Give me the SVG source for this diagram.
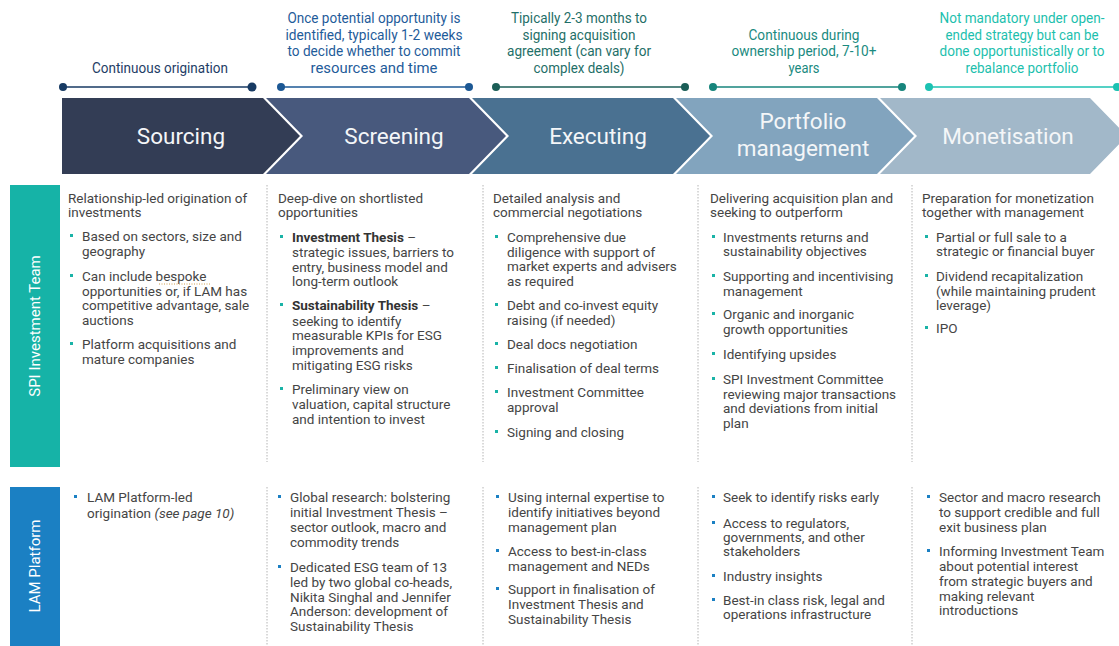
<svg xmlns="http://www.w3.org/2000/svg" width="1119" height="646" viewBox="0 0 1119 646">
<defs>
<style>
.lbl{font-family:Roboto,"Liberation Sans",sans-serif;font-size:14.5px;text-anchor:middle}
.chev{font-family:Roboto,"Liberation Sans",sans-serif;font-size:22.5px;fill:#f4f6f8;text-anchor:middle}
.side{font-family:Roboto,"Liberation Sans",sans-serif;font-size:15px;fill:#ffffff;text-anchor:middle}
.t{font-family:Roboto,"Liberation Sans",sans-serif;font-size:13.5px;fill:#454545}
.b{font-weight:bold;fill:#333}
.i{font-style:italic}
.sep{stroke:#b4b4b4;stroke-width:1;stroke-dasharray:1.5 1.5;fill:none}
.bt{fill:#1ab3a7}
.bb{fill:#1b80c3}
</style>
</defs>
<rect width="1119" height="646" fill="#ffffff"/>

<g id="timeline">
  <g id="tl-sourcing" fill="#173a63" stroke="#173a63">
    <line x1="63" y1="87" x2="252" y2="87" stroke-width="1.6"/>
    <circle cx="63" cy="87" r="4" stroke="none"/><circle cx="252" cy="87" r="4.5" stroke="none"/>
    <text class="lbl" x="160" y="72.5" stroke="none" fill="#1e3d66" textLength="136" lengthAdjust="spacingAndGlyphs">Continuous origination</text>
  </g>
  <g id="tl-screening" fill="#1c5894" stroke="#1c5894">
    <line x1="281" y1="87" x2="469" y2="87" stroke-width="1.6"/>
    <circle cx="281" cy="87" r="4" stroke="none"/><circle cx="469" cy="87" r="4" stroke="none"/>
    <g stroke="none" fill="#1f5c9a">
      <text class="lbl" x="374" y="23" textLength="173" lengthAdjust="spacingAndGlyphs">Once potential opportunity is</text>
      <text class="lbl" x="374" y="39.5" textLength="177" lengthAdjust="spacingAndGlyphs">identified, typically 1-2 weeks</text>
      <text class="lbl" x="374" y="56" textLength="173" lengthAdjust="spacingAndGlyphs">to decide whether to commit</text>
      <text class="lbl" x="374" y="72.5" textLength="127" lengthAdjust="spacingAndGlyphs">resources and time</text>
    </g>
  </g>
  <g id="tl-executing" fill="#1b5e57" stroke="#1b5e57">
    <line x1="496" y1="87" x2="685" y2="87" stroke-width="1.6"/>
    <circle cx="496" cy="87" r="4" stroke="none"/><circle cx="685" cy="87" r="4" stroke="none"/>
    <g stroke="none" fill="#1f6f68">
      <text class="lbl" x="579" y="23" textLength="136" lengthAdjust="spacingAndGlyphs">Tipically 2-3 months to</text>
      <text class="lbl" x="579" y="39.5" textLength="113" lengthAdjust="spacingAndGlyphs">signing acquisition</text>
      <text class="lbl" x="579" y="56" textLength="144" lengthAdjust="spacingAndGlyphs">agreement (can vary for</text>
      <text class="lbl" x="579" y="72.5" textLength="91" lengthAdjust="spacingAndGlyphs">complex deals)</text>
    </g>
  </g>
  <g id="tl-portfolio" fill="#17857c" stroke="#17857c">
    <line x1="713" y1="87" x2="902" y2="87" stroke-width="1.6"/>
    <circle cx="713" cy="87" r="4" stroke="none"/><circle cx="902" cy="87" r="4" stroke="none"/>
    <g stroke="none" fill="#1a8a80">
      <text class="lbl" x="804" y="39.5" textLength="111" lengthAdjust="spacingAndGlyphs">Continuous during</text>
      <text class="lbl" x="804" y="56" textLength="145" lengthAdjust="spacingAndGlyphs">ownership period, 7-10+</text>
      <text class="lbl" x="804" y="72.5" textLength="31" lengthAdjust="spacingAndGlyphs">years</text>
    </g>
  </g>
  <g id="tl-monetisation" fill="#1cc2b2" stroke="#1cc2b2">
    <line x1="929" y1="87" x2="1117" y2="87" stroke-width="1.6"/>
    <circle cx="929" cy="87" r="4" stroke="none"/><circle cx="1117" cy="87" r="4" stroke="none"/>
    <g stroke="none" fill="#1dbfae">
      <text class="lbl" x="1022" y="23" textLength="165" lengthAdjust="spacingAndGlyphs">Not mandatory under open-</text>
      <text class="lbl" x="1022" y="39.5" textLength="153" lengthAdjust="spacingAndGlyphs">ended strategy but can be</text>
      <text class="lbl" x="1022" y="56" textLength="165" lengthAdjust="spacingAndGlyphs">done opportunistically or to</text>
      <text class="lbl" x="1022" y="72.5" textLength="113" lengthAdjust="spacingAndGlyphs">rebalance portfolio</text>
    </g>
  </g>
</g>

<g id="stage-sourcing">
  <polygon points="62,98 263,98 300,136 263,174 62,174" fill="#333d55"/>
  <text class="chev" x="181" y="144">Sourcing</text>
</g>
<g id="stage-screening">
  <polygon points="266,98 469,98 506,136 469,174 266,174 303,136" fill="#48597d"/>
  <text class="chev" x="394" y="144">Screening</text>
</g>
<g id="stage-executing">
  <polygon points="472,98 673,98 710,136 673,174 472,174 509,136" fill="#4a7191"/>
  <text class="chev" x="598" y="144">Executing</text>
</g>
<g id="stage-portfolio">
  <polygon points="676,98 877,98 914,136 877,174 676,174 713,136" fill="#82a4be"/>
  <text class="chev" x="803" y="129">Portfolio</text>
  <text class="chev" x="803" y="156">management</text>
</g>
<g id="stage-monetisation">
  <polygon points="880,98 1090,98 1127,136 1090,174 880,174 917,136" fill="#a2b8c9"/>
  <text class="chev" x="1008" y="144">Monetisation</text>
</g>

<g id="side-spi">
  <rect x="10" y="185" width="50" height="282" fill="#16b3a7"/>
  <text class="side" transform="translate(40,326) rotate(-90)">SPI Investment Team</text>
</g>
<g id="side-lam">
  <rect x="10" y="487" width="50" height="159" fill="#1b80c3"/>
  <text class="side" transform="translate(40,566) rotate(-90)">LAM Platform</text>
</g>

<g id="separators">
  <line class="sep" x1="267" y1="185" x2="267" y2="462"/>
  <line class="sep" x1="483" y1="185" x2="483" y2="462"/>
  <line class="sep" x1="698" y1="185" x2="698" y2="462"/>
  <line class="sep" x1="912" y1="185" x2="912" y2="462"/>
  <line class="sep" x1="267" y1="487" x2="267" y2="646"/>
  <line class="sep" x1="483" y1="487" x2="483" y2="646"/>
  <line class="sep" x1="698" y1="487" x2="698" y2="646"/>
  <line class="sep" x1="912" y1="487" x2="912" y2="646"/>
</g>

<g id="spi-sourcing" class="t">
  <text class="t" x="68" y="203">Relationship-led origination of</text>
  <text class="t" x="68" y="217">investments</text>
  <rect class="bt" x="70" y="234" width="3" height="3"/>
  <text class="t" x="82" y="241">Based on sectors, size and</text>
  <text class="t" x="82" y="256">geography</text>
  <rect class="bt" x="70" y="274" width="3" height="3"/>
  <text class="t" x="82" y="281">Can include bespoke</text>
  <line x1="159" y1="284" x2="210" y2="284" stroke="#d0a050" stroke-width="1" stroke-dasharray="1 1.5"/>
  <text class="t" x="82" y="295.5">opportunities or, if LAM has</text>
  <text class="t" x="82" y="310">competitive advantage, sale</text>
  <text class="t" x="82" y="325">auctions</text>
  <rect class="bt" x="70" y="342" width="3" height="3"/>
  <text class="t" x="82" y="349">Platform acquisitions and</text>
  <text class="t" x="82" y="364">mature companies</text>
</g>

<g id="spi-screening">
  <text class="t" x="278" y="203">Deep-dive on shortlisted</text>
  <text class="t" x="278" y="217">opportunities</text>
  <rect class="bt" x="280" y="235" width="3" height="3"/>
  <text class="t" x="292" y="242"><tspan class="b">Investment Thesis</tspan> –</text>
  <text class="t" x="292" y="256.5">strategic issues, barriers to</text>
  <text class="t" x="292" y="271.5">entry, business model and</text>
  <text class="t" x="292" y="286">long-term outlook</text>
  <rect class="bt" x="280" y="303" width="3" height="3"/>
  <text class="t" x="292" y="310"><tspan class="b">Sustainability Thesis</tspan> –</text>
  <text class="t" x="292" y="325.5">seeking to identify</text>
  <text class="t" x="292" y="339.5">measurable KPIs for ESG</text>
  <text class="t" x="292" y="354.5">improvements and</text>
  <text class="t" x="292" y="369.5">mitigating ESG risks</text>
  <rect class="bt" x="280" y="387" width="3" height="3"/>
  <text class="t" x="292" y="394">Preliminary view on</text>
  <text class="t" x="292" y="409">valuation, capital structure</text>
  <text class="t" x="292" y="423.5">and intention to invest</text>
</g>

<g id="spi-executing">
  <text class="t" x="493" y="202.5">Detailed analysis and</text>
  <text class="t" x="493" y="217">commercial negotiations</text>
  <rect class="bt" x="495" y="235" width="3" height="3"/>
  <text class="t" x="507" y="242">Comprehensive due</text>
  <text class="t" x="507" y="256.5">diligence with support of</text>
  <text class="t" x="507" y="271">market experts and advisers</text>
  <text class="t" x="507" y="285.5">as required</text>
  <rect class="bt" x="495" y="303" width="3" height="3"/>
  <text class="t" x="507" y="310">Debt and co-invest equity</text>
  <text class="t" x="507" y="325">raising (if needed)</text>
  <rect class="bt" x="495" y="342" width="3" height="3"/>
  <text class="t" x="507" y="349">Deal docs negotiation</text>
  <rect class="bt" x="495" y="366" width="3" height="3"/>
  <text class="t" x="507" y="373">Finalisation of deal terms</text>
  <rect class="bt" x="495" y="390" width="3" height="3"/>
  <text class="t" x="507" y="397">Investment Committee</text>
  <text class="t" x="507" y="412">approval</text>
  <rect class="bt" x="495" y="430" width="3" height="3"/>
  <text class="t" x="507" y="437">Signing and closing</text>
</g>

<g id="spi-portfolio">
  <text class="t" x="710" y="203">Delivering acquisition plan and</text>
  <text class="t" x="710" y="217">seeking to outperform</text>
  <rect class="bt" x="712" y="235" width="3" height="3"/>
  <text class="t" x="723" y="242">Investments returns and</text>
  <text class="t" x="723" y="256">sustainability objectives</text>
  <rect class="bt" x="712" y="274" width="3" height="3"/>
  <text class="t" x="723" y="281">Supporting and incentivising</text>
  <text class="t" x="723" y="295.5">management</text>
  <rect class="bt" x="712" y="312" width="3" height="3"/>
  <text class="t" x="723" y="319">Organic and inorganic</text>
  <text class="t" x="723" y="334">growth opportunities</text>
  <rect class="bt" x="712" y="352" width="3" height="3"/>
  <text class="t" x="723" y="359">Identifying upsides</text>
  <rect class="bt" x="712" y="377" width="3" height="3"/>
  <text class="t" x="723" y="384">SPI Investment Committee</text>
  <text class="t" x="723" y="398.5">reviewing major transactions</text>
  <text class="t" x="723" y="413">and deviations from initial</text>
  <text class="t" x="723" y="427.5">plan</text>
</g>

<g id="spi-monetisation">
  <text class="t" x="922" y="203">Preparation for monetization</text>
  <text class="t" x="922" y="217">together with management</text>
  <rect class="bt" x="925" y="235" width="3" height="3"/>
  <text class="t" x="936" y="242">Partial or full sale to a</text>
  <text class="t" x="936" y="256">strategic or financial buyer</text>
  <rect class="bt" x="925" y="274" width="3" height="3"/>
  <text class="t" x="936" y="281">Dividend recapitalization</text>
  <text class="t" x="936" y="295.5">(while maintaining prudent</text>
  <text class="t" x="936" y="309.5">leverage)</text>
  <rect class="bt" x="925" y="326" width="3" height="3"/>
  <text class="t" x="936" y="333">IPO</text>
</g>

<g id="lam-sourcing">
  <rect class="bb" x="74" y="495" width="3" height="3"/>
  <text class="t" x="87" y="502">LAM Platform-led</text>
  <text class="t" x="87" y="517.5">origination <tspan class="i">(see page 10)</tspan></text>
</g>

<g id="lam-screening">
  <rect class="bb" x="278" y="495" width="3" height="3"/>
  <text class="t" x="290" y="502">Global research: bolstering</text>
  <text class="t" x="290" y="517">initial Investment Thesis –</text>
  <text class="t" x="290" y="532">sector outlook, macro and</text>
  <text class="t" x="290" y="547">commodity trends</text>
  <rect class="bb" x="278" y="565" width="3" height="3"/>
  <text class="t" x="290" y="572">Dedicated ESG team of 13</text>
  <text class="t" x="290" y="587">led by two global co-heads,</text>
  <text class="t" x="290" y="601.5">Nikita Singhal and Jennifer</text>
  <text class="t" x="290" y="616">Anderson: development of</text>
  <text class="t" x="290" y="631">Sustainability Thesis</text>
</g>

<g id="lam-executing">
  <rect class="bb" x="496" y="495" width="3" height="3"/>
  <text class="t" x="508" y="502">Using internal expertise to</text>
  <text class="t" x="508" y="517">identify initiatives beyond</text>
  <text class="t" x="508" y="532">management plan</text>
  <rect class="bb" x="496" y="549" width="3" height="3"/>
  <text class="t" x="508" y="556">Access to best-in-class</text>
  <text class="t" x="508" y="571">management and NEDs</text>
  <rect class="bb" x="496" y="587" width="3" height="3"/>
  <text class="t" x="508" y="594">Support in finalisation of</text>
  <text class="t" x="508" y="609">Investment Thesis and</text>
  <text class="t" x="508" y="624">Sustainability Thesis</text>
</g>

<g id="lam-portfolio">
  <rect class="bb" x="712" y="495" width="3" height="3"/>
  <text class="t" x="723" y="502">Seek to identify risks early</text>
  <rect class="bb" x="712" y="521" width="3" height="3"/>
  <text class="t" x="723" y="528">Access to regulators,</text>
  <text class="t" x="723" y="542">governments, and other</text>
  <text class="t" x="723" y="556">stakeholders</text>
  <rect class="bb" x="712" y="574" width="3" height="3"/>
  <text class="t" x="723" y="581">Industry insights</text>
  <rect class="bb" x="712" y="598" width="3" height="3"/>
  <text class="t" x="723" y="605">Best-in class risk, legal and</text>
  <text class="t" x="723" y="619">operations infrastructure</text>
</g>

<g id="lam-monetisation">
  <rect class="bb" x="927" y="495" width="3" height="3"/>
  <text class="t" x="939" y="502">Sector and macro research</text>
  <text class="t" x="939" y="517">to support credible and full</text>
  <text class="t" x="939" y="532">exit business plan</text>
  <rect class="bb" x="927" y="549" width="3" height="3"/>
  <text class="t" x="939" y="556">Informing Investment Team</text>
  <text class="t" x="939" y="571">about potential interest</text>
  <text class="t" x="939" y="586">from strategic buyers and</text>
  <text class="t" x="939" y="600.5">making relevant</text>
  <text class="t" x="939" y="615">introductions</text>
</g>
</svg>
